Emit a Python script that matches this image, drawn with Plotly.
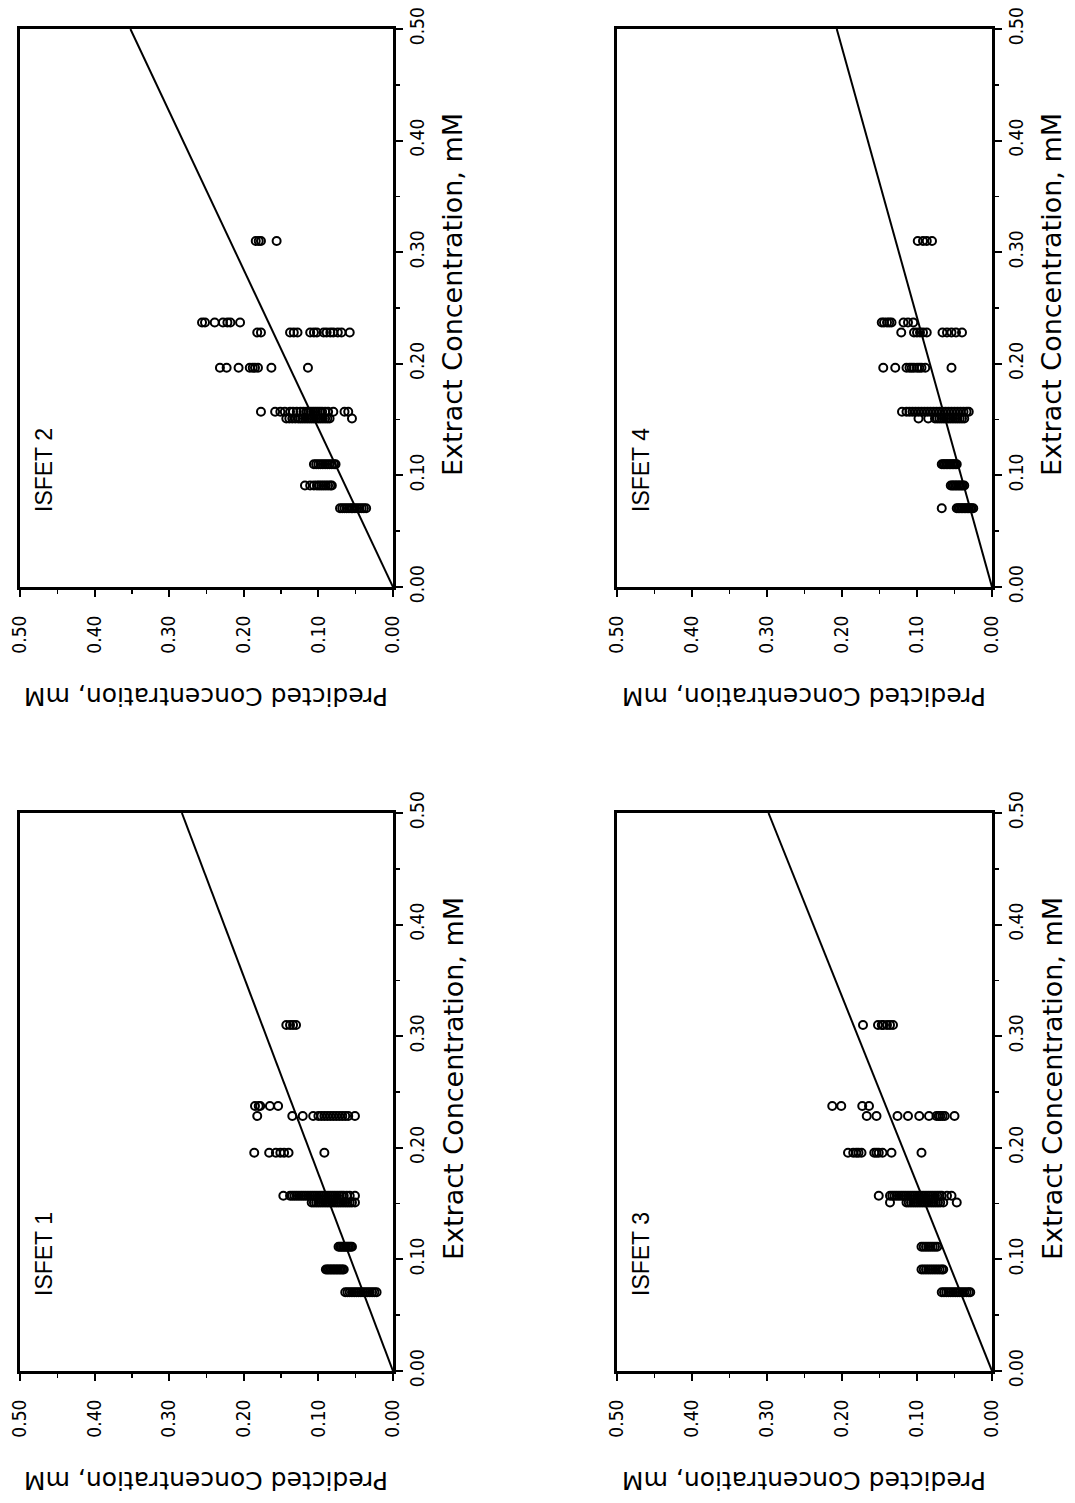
import plotly.graph_objects as go

W, H = 1075, 1503

# ---------------- data ----------------
# Extract concentration levels (mM) and the predicted values observed at each level
ISFET1_LEVELS = [0.0705, 0.091, 0.1114, 0.151, 0.157, 0.1956, 0.2285, 0.2375, 0.31]
ISFET1_PRED = [
    [0.064, 0.061, 0.058, 0.055, 0.052, 0.049, 0.046, 0.043, 0.040, 0.037, 0.034, 0.031, 0.028, 0.025, 0.022],
    [0.090, 0.088, 0.086, 0.084, 0.082, 0.080, 0.078, 0.076, 0.074, 0.072, 0.070, 0.068, 0.066],
    [0.073, 0.071, 0.069, 0.067, 0.065, 0.063, 0.061, 0.059, 0.057, 0.055],
    [0.109, 0.106, 0.103, 0.100, 0.097, 0.094, 0.091, 0.088, 0.085, 0.082, 0.079, 0.076, 0.073, 0.070,
     0.067, 0.064, 0.061, 0.058, 0.055, 0.051],
    [0.147, 0.138, 0.135, 0.132, 0.129, 0.126, 0.123, 0.120, 0.117, 0.114, 0.111, 0.108, 0.105, 0.102,
     0.099, 0.096, 0.093, 0.090, 0.087, 0.084, 0.081, 0.078, 0.075, 0.072, 0.069, 0.066, 0.062, 0.058, 0.051],
    [0.186, 0.166, 0.157, 0.151, 0.146, 0.140, 0.092],
    [0.182, 0.135, 0.121, 0.107, 0.100, 0.096, 0.092, 0.088, 0.084, 0.080, 0.076, 0.072, 0.068, 0.064, 0.060, 0.051],
    [0.185, 0.180, 0.178, 0.165, 0.154],
    [0.143, 0.138, 0.134, 0.130],
]

ISFET2_LEVELS = [0.0705, 0.091, 0.110, 0.151, 0.157, 0.1965, 0.228, 0.237, 0.31]
ISFET2_PRED = [
    [0.071, 0.068, 0.065, 0.062, 0.059, 0.056, 0.054, 0.051, 0.048, 0.045, 0.042, 0.039, 0.036],
    [0.118, 0.111, 0.106, 0.102, 0.099, 0.096, 0.093, 0.090, 0.087, 0.084, 0.082],
    [0.106, 0.103, 0.100, 0.097, 0.094, 0.091, 0.088, 0.085, 0.082, 0.079, 0.077],
    [0.143, 0.139, 0.135, 0.131, 0.127, 0.124, 0.121, 0.118, 0.115, 0.112, 0.109, 0.106, 0.103, 0.100,
     0.097, 0.094, 0.091, 0.088, 0.085, 0.055],
    [0.177, 0.158, 0.151, 0.145, 0.138, 0.134, 0.129, 0.124, 0.120, 0.116, 0.113, 0.110, 0.107, 0.104,
     0.101, 0.098, 0.095, 0.091, 0.087, 0.080, 0.065, 0.060],
    [0.232, 0.223, 0.207, 0.192, 0.188, 0.185, 0.181, 0.163, 0.114],
    [0.182, 0.177, 0.138, 0.133, 0.128, 0.111, 0.106, 0.102, 0.093, 0.089, 0.084, 0.080, 0.074, 0.069, 0.058],
    [0.256, 0.252, 0.239, 0.228, 0.222, 0.218, 0.205],
    [0.184, 0.180, 0.177, 0.156],
]

ISFET3_LEVELS = [0.0705, 0.091, 0.1114, 0.151, 0.157, 0.1956, 0.2285, 0.2375, 0.31]
ISFET3_PRED = [
    [0.067, 0.064, 0.061, 0.058, 0.055, 0.052, 0.049, 0.046, 0.043, 0.040, 0.037, 0.034, 0.031, 0.029],
    [0.094, 0.091, 0.088, 0.085, 0.082, 0.079, 0.076, 0.073, 0.070, 0.067, 0.065],
    [0.094, 0.091, 0.088, 0.085, 0.082, 0.079, 0.076, 0.073],
    [0.136, 0.114, 0.111, 0.108, 0.105, 0.102, 0.099, 0.096, 0.093, 0.090, 0.087, 0.084, 0.081, 0.078,
     0.075, 0.072, 0.069, 0.065, 0.047],
    [0.151, 0.136, 0.133, 0.130, 0.127, 0.124, 0.121, 0.118, 0.115, 0.112, 0.109, 0.106, 0.103, 0.100,
     0.097, 0.094, 0.091, 0.088, 0.085, 0.082, 0.079, 0.076, 0.073, 0.070, 0.067, 0.060, 0.054],
    [0.192, 0.185, 0.181, 0.178, 0.174, 0.157, 0.154, 0.151, 0.146, 0.134, 0.094],
    [0.167, 0.154, 0.126, 0.112, 0.097, 0.084, 0.074, 0.071, 0.069, 0.066, 0.063, 0.050],
    [0.213, 0.201, 0.173, 0.164],
    [0.172, 0.152, 0.147, 0.145, 0.140, 0.136, 0.132],
]

ISFET4_LEVELS = [0.0705, 0.091, 0.110, 0.151, 0.157, 0.1965, 0.228, 0.237, 0.31]
ISFET4_PRED = [
    [0.067, 0.047, 0.045, 0.043, 0.041, 0.039, 0.037, 0.035, 0.033, 0.031, 0.029, 0.027, 0.025],
    [0.055, 0.053, 0.051, 0.049, 0.047, 0.045, 0.043, 0.041, 0.039, 0.037],
    [0.067, 0.065, 0.063, 0.061, 0.059, 0.057, 0.055, 0.053, 0.051, 0.049, 0.047],
    [0.098, 0.085, 0.076, 0.073, 0.070, 0.067, 0.064, 0.061, 0.058, 0.055, 0.052, 0.049, 0.046, 0.043,
     0.040, 0.037],
    [0.120, 0.114, 0.110, 0.106, 0.102, 0.098, 0.094, 0.090, 0.086, 0.082, 0.078, 0.074, 0.070, 0.066,
     0.062, 0.058, 0.054, 0.050, 0.046, 0.042, 0.038, 0.034, 0.031],
    [0.145, 0.129, 0.114, 0.110, 0.107, 0.104, 0.100, 0.097, 0.094, 0.089, 0.054],
    [0.121, 0.104, 0.100, 0.096, 0.092, 0.087, 0.066, 0.060, 0.054, 0.048, 0.040],
    [0.147, 0.144, 0.140, 0.137, 0.134, 0.118, 0.112, 0.105],
    [0.099, 0.092, 0.087, 0.080],
]

# fitted lines: predicted value reached at extract = 0.50
FIT_EXTRACT = [0.0, 0.5]
FIT_PRED_END = {"ISFET 1": 0.283, "ISFET 2": 0.352, "ISFET 3": 0.298, "ISFET 4": 0.207}

TICK_VALS = [0.0, 0.1, 0.2, 0.3, 0.4, 0.5]
TICK_TEXT = ["0.00", "0.10", "0.20", "0.30", "0.40", "0.50"]
MINOR_VALS = [0.05, 0.15, 0.25, 0.35, 0.45]

X_TITLE = "Predicted Concentration, mM"
Y_TITLE = "Extract Concentration, mM"

# ---------------- layout (pixel boxes) ----------------
panels = [
    # name, levels, preds, (left, right, top, bottom) in px
    ("ISFET 2", ISFET2_LEVELS, ISFET2_PRED, (20, 393, 29, 587)),
    ("ISFET 4", ISFET4_LEVELS, ISFET4_PRED, (617, 992, 29, 587)),
    ("ISFET 1", ISFET1_LEVELS, ISFET1_PRED, (20, 393, 813, 1371)),
    ("ISFET 3", ISFET3_LEVELS, ISFET3_PRED, (617, 992, 813, 1371)),
]

TICK_FONT = dict(family="Liberation Sans Narrow, Arial Narrow, DejaVu Sans Condensed, Liberation Sans",
                 size=19, color="black")

fig = go.Figure()
annotations = []
layout = {}

for i, (name, levels, preds, (l, r, t, b)) in enumerate(panels):
    k = "" if i == 0 else str(i + 1)
    xs, ys = [], []
    for lev, plist in zip(levels, preds):
        for p in plist:
            xs.append(p)
            ys.append(lev)
    fig.add_trace(go.Scatter(
        x=xs, y=ys, mode="markers", xaxis="x" + k, yaxis="y" + k,
        marker=dict(symbol="circle-open", size=8, color="black", line=dict(width=2, color="black")),
        showlegend=False, hoverinfo="skip", cliponaxis=False))
    fig.add_trace(go.Scatter(
        x=[0.0, FIT_PRED_END[name]], y=FIT_EXTRACT, mode="lines", xaxis="x" + k, yaxis="y" + k,
        line=dict(color="black", width=2), showlegend=False, hoverinfo="skip"))

    common = dict(showline=True, linewidth=3, linecolor="black", mirror=True, automargin=False,
                  ticks="outside", ticklen=7, tickwidth=2, tickcolor="black",
                  tickvals=TICK_VALS, ticktext=TICK_TEXT, tickangle=-90, tickfont=TICK_FONT,
                  minor=dict(tickvals=MINOR_VALS, ticks="outside", ticklen=4,
                             tickwidth=1.5, tickcolor="black"),
                  showgrid=False, zeroline=False, fixedrange=True)
    layout["xaxis" + k] = dict(domain=[l / W, r / W], range=[0.5, 0.0], anchor="y" + k,
                               ticklabelstandoff=11, **common)
    layout["yaxis" + k] = dict(domain=[1 - b / H, 1 - t / H], range=[0.0, 0.5], anchor="x" + k,
                               side="right", ticklabelstandoff=-2, **common)

    cx = (l + r) / 2
    cy = (t + b) / 2
    # upside-down x title below the panel
    annotations.append(dict(text=X_TITLE, x=cx / W, y=1 - (b + 110) / H, xref="paper", yref="paper",
                            showarrow=False, textangle=180, xanchor="center", yanchor="middle",
                            font=dict(family="DejaVu Sans", size=25, color="black")))
    # y title on the right side, reading upward
    annotations.append(dict(text=Y_TITLE, x=(r + 60) / W, y=1 - (cy - 13) / H, xref="paper", yref="paper",
                            showarrow=False, textangle=-90, xanchor="center", yanchor="middle",
                            font=dict(family="DejaVu Sans", size=27, color="black")))
    # panel label
    annotations.append(dict(text=name, x=(l + 24) / W, y=1 - (t + 441) / H, xref="paper", yref="paper",
                            showarrow=False, textangle=-90, xanchor="center", yanchor="middle",
                            font=dict(family="Liberation Sans", size=23, color="black")))

fig.update_layout(width=W, height=H, margin=dict(l=0, r=0, t=0, b=0),
                  paper_bgcolor="white", plot_bgcolor="white", annotations=annotations, **layout)

fig.write_html("out.html", config={"displayModeBar": False, "staticPlot": True},
               post_script="document.body.style.margin='0px';")
